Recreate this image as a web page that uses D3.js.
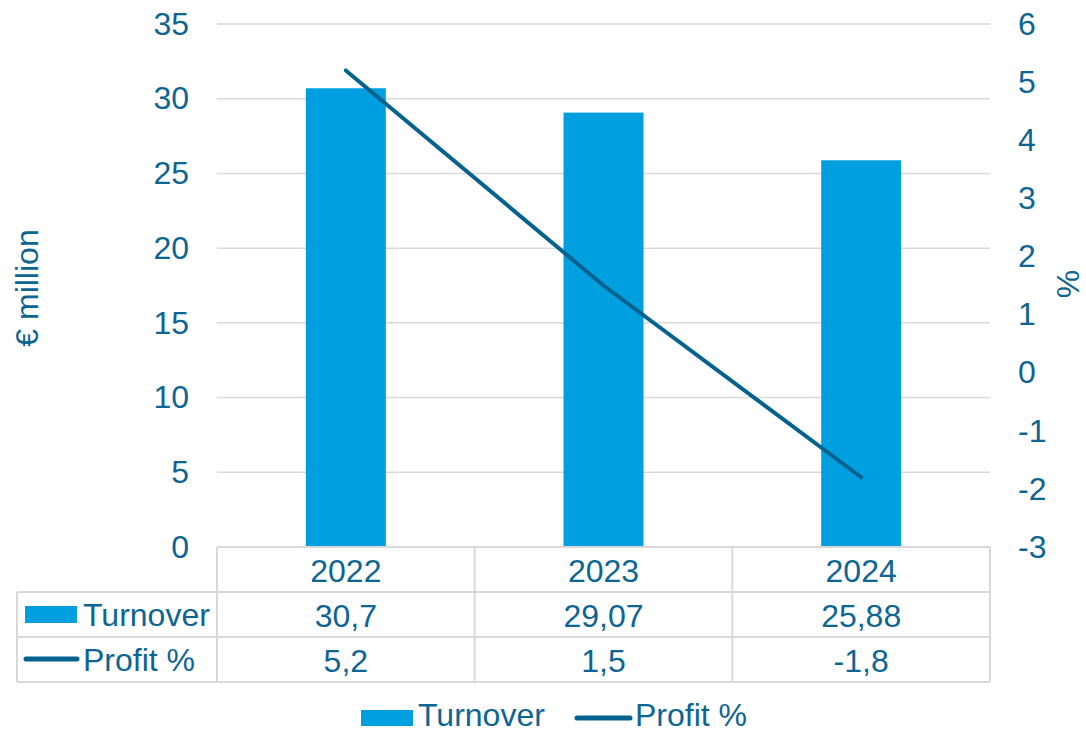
<!DOCTYPE html>
<html><head><meta charset="utf-8">
<script src="https://cdn.jsdelivr.net/npm/d3@7"></script>
<style>body{margin:0;background:#fff}svg{display:block;font-family:"Liberation Sans",Arial,sans-serif}</style>
</head><body><svg id="c" width="1086" height="733"></svg>
<script>
const categories = ["2022","2023","2024"];
const turnover = [30.7, 29.07, 25.88];
const profit = [5.2, 1.5, -1.8];
const turnoverLabels = ["30,7","29,07","25,88"];
const profitLabels = ["5,2","1,5","-1,8"];
const leftTicks = [0,5,10,15,20,25,30,35];
const rightTicks = [-3,-2,-1,0,1,2,3,4,5,6];

const FS = 32;
const textColor = "#0d6592", barColor = "#009fdf", lineColor = "#04628f", gridColor = "#d9d9d9";
const svg = d3.select("#c");
const L = 217, R = 990, T = 24, B = 547;
const x = d3.scaleBand().domain(categories).range([L, R]).paddingInner(0).paddingOuter(0);
const yL = d3.scaleLinear().domain([0,35]).range([B, T]);
const yR = d3.scaleLinear().domain([-3,6]).range([B, T]);

// gridlines
svg.append("g").selectAll("line").data(leftTicks.filter(d=>d>0)).join("line")
  .attr("x1", L).attr("x2", R).attr("y1", d=>yL(d)).attr("y2", d=>yL(d))
  .attr("stroke", gridColor).attr("stroke-width", 1.5);

// axis labels
const axL = svg.append("g").attr("transform", `translate(${L},0)`)
  .call(d3.axisLeft(yL).tickValues(leftTicks).tickFormat(d=>String(d)).tickSize(0).tickPadding(28));
axL.select(".domain").remove();
axL.selectAll("text").attr("fill", textColor).attr("font-size", FS).style("font-family","Liberation Sans, Arial, sans-serif");

const axR = svg.append("g").attr("transform", `translate(${R},0)`)
  .call(d3.axisRight(yR).tickValues(rightTicks).tickFormat(d=>String(d)).tickSize(0).tickPadding(28));
axR.select(".domain").remove();
axR.selectAll("text").attr("fill", textColor).attr("font-size", FS).style("font-family","Liberation Sans, Arial, sans-serif");

// axis titles
svg.append("text").attr("transform", `translate(38,288) rotate(-90)`).attr("text-anchor","middle")
  .attr("fill", textColor).attr("font-size", FS).text("€ million");
svg.append("text").attr("transform", `translate(1079,284) rotate(-90)`).attr("text-anchor","middle")
  .attr("fill", textColor).attr("font-size", FS).text("%");

// bars
const bw = 80;
svg.append("g").selectAll("rect").data(turnover).join("rect")
  .attr("x", (d,i)=>x(categories[i]) + x.bandwidth()/2 - bw/2)
  .attr("width", bw)
  .attr("y", d=>yL(d)).attr("height", d=>yL(0)-yL(d))
  .attr("fill", barColor);

// line
const line = d3.line().x((d,i)=>x(categories[i]) + x.bandwidth()/2).y(d=>yR(d));
svg.append("path").datum(profit).attr("d", line).attr("fill","none")
  .attr("stroke", lineColor).attr("stroke-width", 4).attr("stroke-linecap","round").attr("stroke-linejoin","round");

// data table
const rows = [B, 592, 637, 682];
const tL = 17;
const tg = svg.append("g").attr("stroke", gridColor).attr("stroke-width", 2).attr("fill","none");
tg.append("line").attr("x1", L).attr("x2", R).attr("y1", rows[0]).attr("y2", rows[0]);
[1,2,3].forEach(i=>tg.append("line").attr("x1", tL).attr("x2", R).attr("y1", rows[i]).attr("y2", rows[i]));
tg.append("line").attr("x1", tL).attr("x2", tL).attr("y1", rows[1]).attr("y2", rows[3]);
tg.append("line").attr("x1", L).attr("x2", L).attr("y1", rows[0]).attr("y2", rows[3]);
categories.forEach(c=>tg.append("line").attr("x1", x(c)+x.bandwidth()).attr("x2", x(c)+x.bandwidth()).attr("y1", rows[0]).attr("y2", rows[3]));

const cellText = (txt, cx, cy) => svg.append("text").attr("x", cx).attr("y", cy).attr("text-anchor","middle")
  .attr("dominant-baseline","central").attr("fill", textColor).attr("font-size", FS).text(txt);
categories.forEach((c,i)=>{
  const cx = x(c)+x.bandwidth()/2;
  cellText(c, cx, (rows[0]+rows[1])/2+1);
  cellText(turnoverLabels[i], cx, (rows[1]+rows[2])/2+1);
  cellText(profitLabels[i], cx, (rows[2]+rows[3])/2+1);
});
// row headers
svg.append("rect").attr("x", 25).attr("y", 606).attr("width", 52).attr("height", 17).attr("fill", barColor);
svg.append("text").attr("x", 83).attr("y", 615).attr("dominant-baseline","central").attr("fill", textColor).attr("font-size", FS).text("Turnover");
svg.append("line").attr("x1", 26).attr("x2", 77).attr("y1", 659).attr("y2", 659).attr("stroke", lineColor).attr("stroke-width", 5).attr("stroke-linecap","round");
svg.append("text").attr("x", 83).attr("y", 660).attr("dominant-baseline","central").attr("fill", textColor).attr("font-size", FS).text("Profit %");

// legend
svg.append("rect").attr("x", 361).attr("y", 710).attr("width", 52).attr("height", 16).attr("fill", barColor);
svg.append("text").attr("x", 418).attr("y", 726).attr("fill", textColor).attr("font-size", FS).text("Turnover");
svg.append("line").attr("x1", 577).attr("x2", 630).attr("y1", 718).attr("y2", 718).attr("stroke", lineColor).attr("stroke-width", 5).attr("stroke-linecap","round");
svg.append("text").attr("x", 635).attr("y", 726).attr("fill", textColor).attr("font-size", FS).text("Profit %");
</script></body></html>
